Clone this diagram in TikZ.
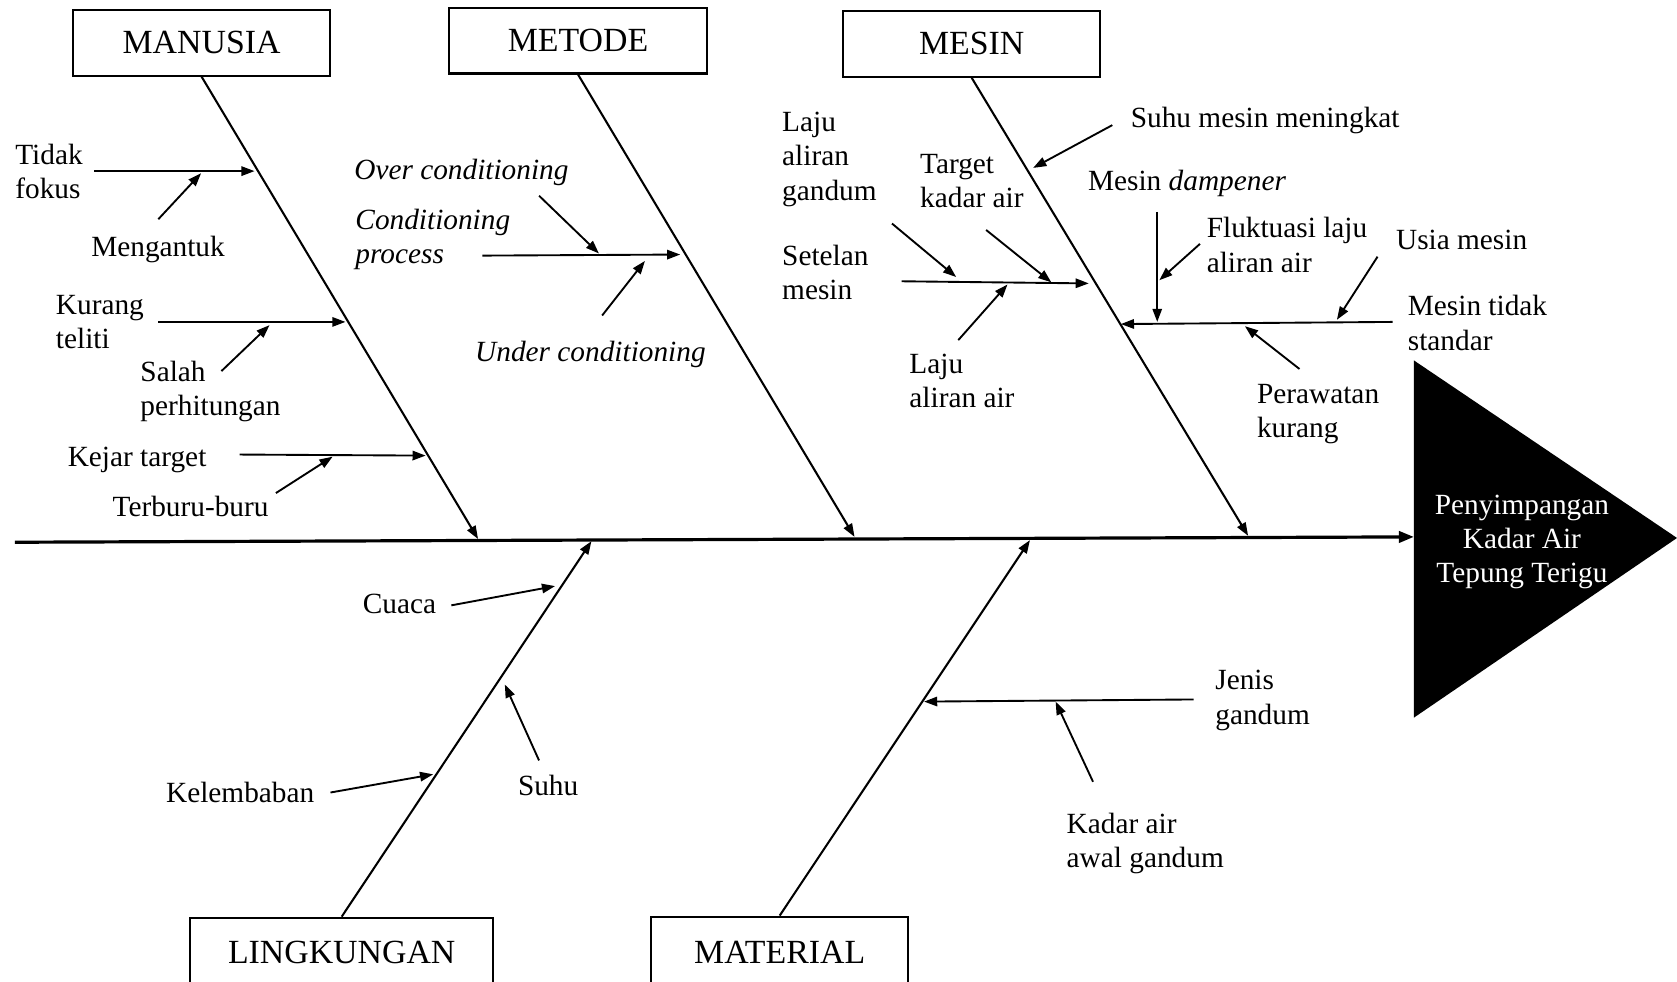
\documentclass[tikz,border=0pt]{standalone}
\usepackage{fontspec}
\setmainfont{Liberation Serif}
\usetikzlibrary{arrows.meta}
\begin{document}
\begin{tikzpicture}[x=0.02cm, y=-0.02cm,
  spine/.style={line width=1.7pt, -{Triangle[length=8pt,width=6pt]}},
  bone/.style={line width=1.1pt, -{Triangle[length=7pt,width=5pt]}},
  cause/.style={line width=1.0pt, -{Triangle[length=7pt,width=5pt]}},
  lbl/.style={inner sep=0pt, align=left, anchor=west, yshift=-1.7pt,
    font=\fontsize{15.6}{18.2}\selectfont},
  lbli/.style={lbl, font=\fontsize{15.6}{18.2}\selectfont\itshape},
  cat/.style={draw, line width=1.1pt, inner sep=0pt, minimum width=137pt,
    minimum height=35pt, font=\fontsize{18}{20}\selectfont},
  catlow/.style={cat, minimum height=37.5pt}
]
\useasboundingbox (0,0) rectangle (1568,918);

% category boxes
\node[cat] (manusia) at (188.5,40) {MANUSIA};
\node[cat] (metode) at (540.5,38) {METODE};
\node[cat] (mesin) at (908.5,41) {MESIN};
\node[catlow, minimum width=161pt] (lingkungan) at (319.5,891) {LINGKUNGAN};
\node[catlow] (material) at (729,890) {MATERIAL};

% effect head
\coordinate (tri-w) at (1322,502);
\fill (1322,337) -- (1568,503) -- (1322,671) -- cycle;
\node[inner sep=0pt, align=center, text=white, yshift=-1.7pt,
  font=\fontsize{15.6}{18.2}\selectfont]
  (effect) at (1423,504) {Penyimpangan\\Kadar Air\\Tepung Terigu};

% spine
\coordinate (spine-l) at (14,507);
\draw[spine] (spine-l) -- (tri-w);

% main bones
\coordinate (manusia-tip) at (447,504);
\coordinate (metode-tip) at (799,502);
\coordinate (mesin-tip) at (1167,501);
\coordinate (lingkungan-tip) at (553,506);
\coordinate (material-tip) at (963,505);
\draw[bone] (manusia.south) -- (manusia-tip);
\draw[bone] (metode.south) -- (metode-tip);
\draw[bone] (mesin.south) -- (mesin-tip);
\draw[bone] (lingkungan.north) -- (lingkungan-tip);
\draw[bone] (material.north) -- (material-tip);

% MANUSIA causes
\node[lbl] (tidak) at (14,157) {Tidak\\fokus};
\node[lbl] (mengantuk) at (85,230) {Mengantuk};
\node[lbl] (kurang) at (52,298) {Kurang\\teliti};
\node[lbl] (salah) at (131,363) {Salah\\perhitungan};
\node[lbl] (kejar) at (63,427) {Kejar target};
\node[lbl] (terburu) at (105,471) {Terburu-buru};
\coordinate (a1s) at (88,160);   \coordinate (a1e) at (238,160);
\coordinate (a2s) at (148,205);  \coordinate (a2e) at (188,162);
\coordinate (a3s) at (148,301);  \coordinate (a3e) at (323,301);
\coordinate (a4s) at (207,347);  \coordinate (a4e) at (252,304);
\coordinate (a5s) at (224,425);  \coordinate (a5e) at (398,426);
\coordinate (a6s) at (258,461);  \coordinate (a6e) at (311,427);
\draw[cause] (a1s) -- (a1e);
\draw[cause] (a2s) -- (a2e);
\draw[cause] (a3s) -- (a3e);
\draw[cause] (a4s) -- (a4e);
\draw[cause] (a5s) -- (a5e);
\draw[cause] (a6s) -- (a6e);

% METODE causes
\node[lbli] (over) at (331,158) {Over conditioning};
\node[lbli] (condproc) at (332,221) {Conditioning\\process};
\node[lbli] (under) at (444,328) {Under conditioning};
\coordinate (b1s) at (451,239);  \coordinate (b1e) at (636,238);
\coordinate (b2s) at (504,183);  \coordinate (b2e) at (560,237);
\coordinate (b3s) at (563,295);  \coordinate (b3e) at (603,244);
\draw[cause] (b1s) -- (b1e);
\draw[cause] (b2s) -- (b2e);
\draw[cause] (b3s) -- (b3e);

% MESIN causes
\node[lbl] (lajugandum) at (731,146) {Laju\\aliran\\gandum};
\node[lbl] (setelan) at (731,252) {Setelan\\mesin};
\node[lbl] (target) at (860,166) {Target\\kadar air};
\node[lbl] (lajuair) at (850,353) {Laju\\aliran air};
\node[lbl] (suhumesin) at (1057,110) {Suhu mesin meningkat};
\node[lbl] (dampener) at (1017,169) {Mesin \textit{dampener}};
\node[lbl] (fluktuasi) at (1128,226) {Fluktuasi laju\\aliran air};
\node[lbl] (usia) at (1305,221) {Usia mesin};
\node[lbl] (tidakstd) at (1316,299) {Mesin tidak\\standar};
\node[lbl] (perawatan) at (1175,384) {Perawatan\\kurang};
\coordinate (c1s) at (843,263);   \coordinate (c1e) at (1018,265);
\coordinate (c2s) at (834,209);   \coordinate (c2e) at (894,259);
\coordinate (c3s) at (922,215);   \coordinate (c3e) at (983,264);
\coordinate (c4s) at (896,318);   \coordinate (c4e) at (942,266);
\coordinate (c5s) at (1040,117);  \coordinate (c5e) at (966,157);
\coordinate (c6s) at (1302,301);  \coordinate (c6e) at (1048,303);
\coordinate (c7s) at (1082,198);  \coordinate (c7e) at (1082,301);
\coordinate (c8s) at (1122,228);  \coordinate (c8e) at (1084,262);
\coordinate (c9s) at (1288,240);  \coordinate (c9e) at (1250,299);
\coordinate (c10s) at (1215,345); \coordinate (c10e) at (1164,305);
\draw[cause] (c1s) -- (c1e);
\draw[cause] (c2s) -- (c2e);
\draw[cause] (c3s) -- (c3e);
\draw[cause] (c4s) -- (c4e);
\draw[cause] (c5s) -- (c5e);
\draw[cause] (c6s) -- (c6e);
\draw[cause] (c7s) -- (c7e);
\draw[cause] (c8s) -- (c8e);
\draw[cause] (c9s) -- (c9e);
\draw[cause] (c10s) -- (c10e);

% LINGKUNGAN causes
\node[lbl] (cuaca) at (339,562) {Cuaca};
\node[lbl] (suhu) at (484,731) {Suhu};
\node[lbl] (kelembaban) at (155,738) {Kelembaban};
\coordinate (d1s) at (422,566);  \coordinate (d1e) at (519,548);
\coordinate (d2s) at (504,711);  \coordinate (d2e) at (472,640);
\coordinate (d3s) at (309,741);  \coordinate (d3e) at (405,724);
\draw[cause] (d1s) -- (d1e);
\draw[cause] (d2s) -- (d2e);
\draw[cause] (d3s) -- (d3e);

% MATERIAL causes
\node[lbl] (jenis) at (1136,652) {Jenis\\gandum};
\node[lbl] (kadarawal) at (997,786) {Kadar air\\awal gandum};
\coordinate (e1s) at (1116,654);  \coordinate (e1e) at (864,656);
\coordinate (e2s) at (1022,731);  \coordinate (e2e) at (987,656);
\draw[cause] (e1s) -- (e1e);
\draw[cause] (e2s) -- (e2e);
\end{tikzpicture}
\end{document}
